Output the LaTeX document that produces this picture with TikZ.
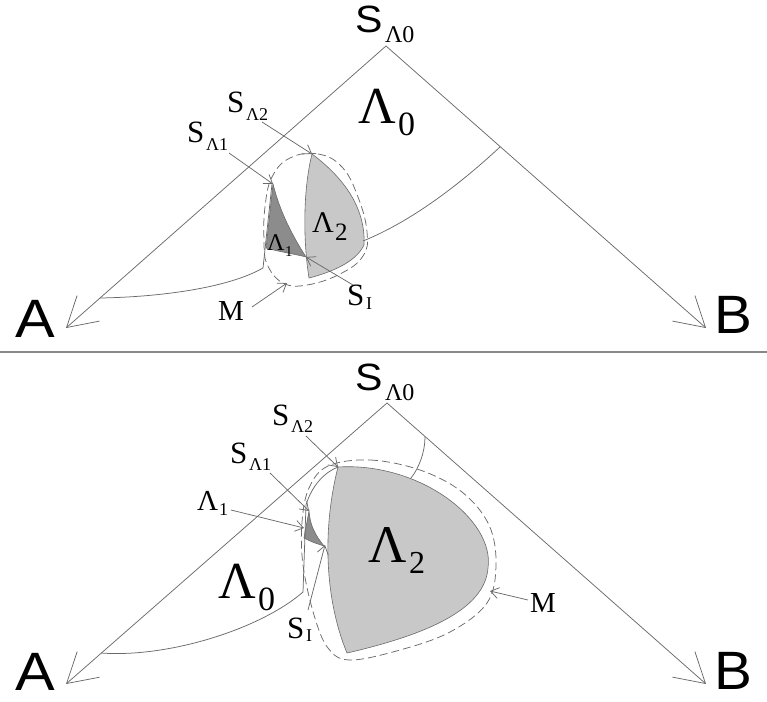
\documentclass[tikz,border=0pt]{standalone}
\usepackage{fontspec}
\setmainfont{Liberation Serif}
\newfontfamily\arialf{Liberation Sans}
\usetikzlibrary{arrows.meta}
\definecolor{ln}{HTML}{6A6A6A}
\definecolor{lamtwo}{HTML}{C8C8C8}
\definecolor{lamone}{HTML}{8C8C8C}
\newcommand\fsz[1]{\fontsize{#1}{#1}\selectfont}
\tikzset{
  lbl/.style={anchor=base west, inner sep=0pt, outer sep=0pt, text=black, text depth=0pt},
  ln/.style={draw=ln, line width=0.75pt},
  barb/.style={ln, -{Straight Barb[length=8pt,width=11pt,line width=0.75pt]}},
  bigbarb/.style={ln, -{Straight Barb[length=29pt,width=34pt,line width=0.75pt]}},
  mdash/.style={draw=ln, line width=0.75pt, dash pattern=on 8pt off 4pt},
}
\begin{document}
\begin{tikzpicture}[x=1pt,y=-1pt]
\useasboundingbox (0,0) rectangle (767,701);
% divider
\draw[draw=ln!80, line width=1.2pt] (0,352) -- (767,352);

%%%%%%%%%%%%%%%% TOP PANEL %%%%%%%%%%%%%%%%
\coordinate (tApex) at (386,46);
\coordinate (tA) at (66,328);
\coordinate (tB) at (706,328);
\coordinate (tR) at (500,147);
\coordinate (tRe) at (363,241);
\coordinate (tL) at (100,298);
\coordinate (tLe) at (263,268);
\coordinate (tLt) at (272,184);
\coordinate (tS2) at (312,154);
\coordinate (tS1) at (273,184);
\coordinate (tSI) at (306,257);
\coordinate (tM) at (287,283);

% Lambda2 region
\path[fill=lamtwo, draw=ln, line width=0.6pt] (tS2) .. controls (340,175) and (366,205) .. (364,245)
  .. controls (356,262) and (332,272) .. (309,278)
  .. controls (303,240) and (303,190) .. (tS2) -- cycle;
% Lambda1 region
\path[fill=lamone, draw=ln, line width=0.6pt] (tS1) -- (266,248)
  .. controls (280,252) and (295,254) .. (tSI)
  .. controls (292,235) and (280,212) .. (tS1) -- cycle;

% triangle sides
\draw[bigbarb] (tApex) -- (tA);
\draw[bigbarb] (tApex) -- (tB);
% arcs
\draw[ln] (tR) .. controls (458,186) and (410,222) .. (tRe);
\draw[ln] (tL) .. controls (160,297) and (228,288) .. (tLe) -- (tLt);
% dashed M boundary
\draw[mdash] plot[smooth cycle, tension=0.7] coordinates {(290,158) (318,154) (342,167) (358,197) (367,232) (363,256) (340,274) (307,285) (283,283) (267,264) (264,240) (265,207) (272,177)};

% labels top
\node[lbl] (tSL0) at (355,33) {\arialf\fsz{38}\scalebox{1.08}[1]{S}};
\node[lbl] (tSL0s) at (385,43) {\fsz{24}Λ0};
\node[lbl] (tL0) at (358,123) {\fsz{52}Λ};
\node[lbl] (tL0s) at (398,135) {\fsz{34}0};
\node[lbl] (tL2) at (312,232) {\fsz{30}Λ};
\node[lbl] (tL2s) at (335,240) {\fsz{25}2};
\node[lbl] (tL1) at (267,250) {\fsz{24}Λ};
\node[lbl] (tL1s) at (285,256) {\fsz{15}1};
\node[lbl] (tSL2) at (227,112) {\fsz{31}S};
\node[lbl] (tSL2s) at (246,120) {\fsz{18}Λ2};
\node[lbl] (tSL1) at (187,142) {\fsz{31}S};
\node[lbl] (tSL1s) at (206,150) {\fsz{18}Λ1};
\node[lbl] (tMl) at (218,320) {\fsz{29}M};
\node[lbl] (tSIl) at (347,305) {\fsz{31}S};
\node[lbl] (tSIs) at (366,309) {\fsz{18}I};
\node[lbl] (tAl) at (15,337) {\arialf\fsz{54}\scalebox{1.1}[1]{A}};
\node[lbl] (tBl) at (714,333) {\arialf\fsz{54}\scalebox{1.05}[1]{B}};

% label arrows top
\coordinate (tSL2a) at (262,122);
\coordinate (tSL1a) at (229,153);
\coordinate (tSIa) at (353,285);
\coordinate (tMa) at (252,307);
\draw[barb] (tSL2a) -- (tS2);
\draw[barb] (tSL1a) -- (tS1);
\draw[barb] (tSIa) -- (tSI);
\draw[barb] (tMa) -- (tM);

%%%%%%%%%%%%%%%% BOTTOM PANEL %%%%%%%%%%%%%%%%
\coordinate (bApex) at (387,403);
\coordinate (bA) at (66,684);
\coordinate (bB) at (706,684);
\coordinate (bR) at (425,437);
\coordinate (bRe) at (411,478);
\coordinate (bL) at (101,653);
\coordinate (bLe) at (303,592);
\coordinate (bLt) at (306,505);
\coordinate (bS2) at (338,467);
\coordinate (bS1) at (309,511);
\coordinate (bL1p) at (304,528);
\coordinate (bSI) at (325,545);
\coordinate (bM) at (490,591);

% Lambda2 region
\path[fill=lamtwo, draw=ln, line width=0.6pt] (bS2) .. controls (420,462) and (495,520) .. (488,568)
  .. controls (485,610) and (425,635) .. (347,653)
  .. controls (325,600) and (322,530) .. (bS2) -- cycle;
% Lambda1 region
\path[fill=lamone, draw=ln, line width=0.6pt] (bS1) -- (304,538)
  .. controls (312,542) .. (324,546)
  .. controls (315,535) and (310,525) .. (bS1) -- cycle;

% triangle sides
\draw[bigbarb] (bApex) -- (bA);
\draw[bigbarb] (bApex) -- (bB);
% arcs
\draw[ln] (bR) .. controls (425,452) and (419,468) .. (bRe);
\draw[ln] (bL) .. controls (170,658) and (262,628) .. (bLe) -- (bLt)
  .. controls (312,485) and (325,472) .. (bS2);
% dashed M boundary
\draw[mdash] plot[smooth cycle, tension=0.6] coordinates {(328,466) (370,460) (420,470) (462,492) (489,525) (496,565) (487,603) (450,632) (400,650) (350,660) (328,648) (314,615) (303,565) (302,522) (309,488)};

% labels bottom
\node[lbl] (bSL0) at (355,390) {\arialf\fsz{38}\scalebox{1.08}[1]{S}};
\node[lbl] (bSL0s) at (385,400) {\fsz{24}Λ0};
\node[lbl] (bL0) at (218,598) {\fsz{52}Λ};
\node[lbl] (bL0s) at (258,610) {\fsz{34}0};
\node[lbl] (bL2) at (368,562) {\fsz{53}Λ};
\node[lbl] (bL2s) at (409,573) {\fsz{32}2};
\node[lbl] (bL1) at (197,510) {\fsz{29}Λ};
\node[lbl] (bL1s) at (219,515) {\fsz{18}1};
\node[lbl] (bSL2) at (272,425) {\fsz{31}S};
\node[lbl] (bSL2s) at (291,432) {\fsz{18}Λ2};
\node[lbl] (bSL1) at (230,463) {\fsz{31}S};
\node[lbl] (bSL1s) at (249,470) {\fsz{18}Λ1};
\node[lbl] (bSIl) at (287,638) {\fsz{31}S};
\node[lbl] (bSIs) at (306,641) {\fsz{18}I};
\node[lbl] (bMl) at (530,612) {\fsz{29}M};
\node[lbl] (bAl) at (15,690) {\arialf\fsz{54}\scalebox{1.1}[1]{A}};
\node[lbl] (bBl) at (714,689) {\arialf\fsz{54}\scalebox{1.05}[1]{B}};

% label arrows bottom
\coordinate (bSL2a) at (306,436);
\coordinate (bSL1a) at (270,473);
\coordinate (bL1a) at (231,510);
\coordinate (bSIa) at (308,610);
\coordinate (bMa) at (528,600);
\draw[barb] (bSL2a) -- (bS2);
\draw[barb] (bSL1a) -- (bS1);
\draw[barb] (bL1a) -- (bL1p);
\draw[barb] (bSIa) -- (bSI);
\draw[barb] (bMa) -- (bM);
\end{tikzpicture}
\end{document}
